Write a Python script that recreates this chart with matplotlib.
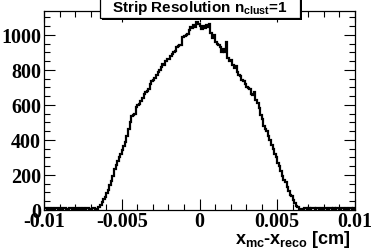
"""
Strip Resolution n_clust=1 : x_mc - x_reco 分佈 (ROOT 風格直方圖)
"""

import matplotlib
matplotlib.use("Agg")
import matplotlib.pyplot as plt
import numpy as np
from matplotlib.patches import Rectangle
from matplotlib.ticker import MultipleLocator

plt.rcParams['mathtext.fontset'] = 'custom'
plt.rcParams['mathtext.rm'] = 'Liberation Sans:bold'
plt.rcParams['mathtext.it'] = 'Liberation Sans:bold'
plt.rcParams['mathtext.bf'] = 'Liberation Sans:bold'

# 直方圖範圍與分箱
x_min, x_max, n_bins = -0.01, 0.01, 200

# 左側尾巴 (-0.0100 ~ -0.0067)
tail_left = [9, 12, 7, 10, 8, 11, 6, 9, 13, 8, 10, 7, 9, 12, 8, 6, 10, 9, 7, 11,
             8, 10, 6, 9, 8, 12, 7, 9, 10, 8, 6, 9, 11, 7]
# 上升段 (-0.0065 ~ -0.0001)
rise = [5, 15, 30, 45, 60, 75, 95, 115, 140, 165,
        195, 235, 255, 280, 300, 320, 345, 366, 390, 420,
        460, 500, 537, 545, 548, 590, 600, 605, 625, 640,
        665, 675, 682, 690, 720, 735, 740, 755, 770, 790,
        800, 815, 835, 830, 850, 860, 865, 880, 890, 900,
        910, 930, 935, 940, 945, 990, 995, 1000, 1005, 1030,
        1045, 1040, 1055, 1045, 1075]
# 峰值與下降段 (0.0000 ~ 0.0066)
fall = [1060, 1050, 1035, 1050, 1040, 1055, 1045, 1060, 1010, 980,
        1000, 960, 950, 940, 930, 905, 920, 900, 960, 870,
        850, 855, 830, 810, 820, 790, 770, 765, 740, 735,
        720, 700, 695, 690, 660, 655, 675, 630, 610, 580,
        540, 520, 480, 465, 450, 420, 400, 370, 350, 320,
        300, 270, 250, 220, 195, 170, 160, 130, 110, 85,
        80, 55, 40, 25, 15, 8, 5]
# 右側尾巴 (0.0067 ~ 0.0100)
tail_right = [7, 10, 12, 8, 9, 6, 11, 10, 8, 13, 9, 7, 10, 8, 12, 9, 6, 10, 11, 8,
              9, 7, 12, 10, 8, 9, 11, 7, 10, 8, 13, 9, 6, 10]

x_ticks = [-0.01, -0.005, 0, 0.005, 0.01]
x_tick_labels = ['-0.01', '-0.005', '0', '0.005', '0.01']


def main():
    counts = np.array(tail_left + rise + fall + tail_right, dtype=float)
    edges = np.linspace(x_min, x_max, n_bins + 1)

    fig = plt.figure(figsize=(3.74, 2.53), dpi=100)
    ax = fig.add_axes([44 / 374, 42 / 253, 311 / 374, 199 / 253])

    ax.stairs(counts, edges, color='black', linewidth=1.6)

    ax.set_xlim(x_min, x_max)
    ax.set_ylim(0, 1137)

    # 刻度 - ROOT 風格 (向內, 四邊)
    ax.set_xticks(x_ticks)
    ax.set_xticklabels(x_tick_labels)
    ax.xaxis.set_minor_locator(MultipleLocator(0.001))
    ax.yaxis.set_major_locator(MultipleLocator(200))
    ax.yaxis.set_minor_locator(MultipleLocator(50))
    ax.tick_params(which='both', direction='in', top=True, right=True, width=0.8)
    ax.tick_params(which='major', length=8)
    ax.tick_params(which='minor', length=4)
    ax.tick_params(axis='y', pad=2)
    ax.tick_params(axis='x', pad=1)
    for lab in ax.get_xticklabels() + ax.get_yticklabels():
        lab.set_fontfamily('Liberation Serif')
        lab.set_fontweight('bold')
        lab.set_fontsize(14.5)
    for sp in ax.spines.values():
        sp.set_linewidth(0.9)

    # X 軸標題 (右下角)
    fig.text(351 / 374, 1 - 244 / 253, r'$x_{mc}$-$x_{reco}$ [cm]',
             ha='right', va='baseline', fontsize=13,
             fontfamily='Liberation Sans', fontweight='bold')

    # 標題框 (帶陰影)
    shadow = Rectangle((102 / 374, 1 - 21 / 253), 200 / 374, 25 / 253,
                       transform=fig.transFigure, facecolor='black',
                       edgecolor='none', zorder=5)
    box = Rectangle((100 / 374, 1 - 19 / 253), 200 / 374, 25 / 253,
                    transform=fig.transFigure, facecolor='white',
                    edgecolor='black', linewidth=0.9, zorder=6)
    fig.add_artist(shadow)
    fig.add_artist(box)
    fig.text(200 / 374, 1 - 12 / 253, r'Strip Resolution n$_{clust}$=1',
             ha='center', va='baseline', fontsize=11,
             fontfamily='Liberation Sans', fontweight='bold', zorder=7)

    fig.savefig('out.png', dpi=100)


if __name__ == "__main__":
    main()
